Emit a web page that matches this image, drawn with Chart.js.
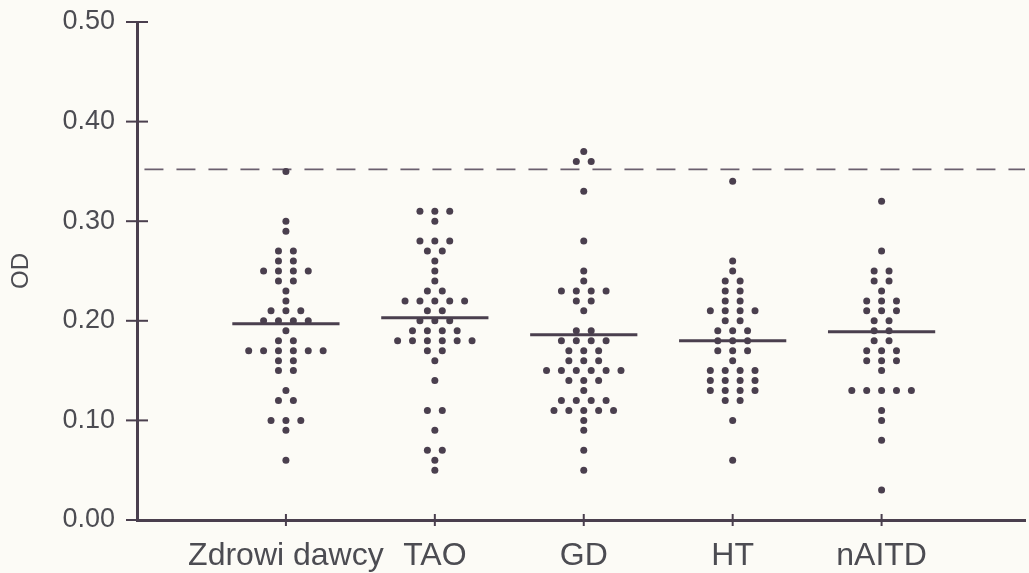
<!DOCTYPE html>
<html>
<head>
<meta charset="utf-8">
<script src="https://cdn.jsdelivr.net/npm/chart.js@4/dist/chart.umd.min.js"></script>
<style>
  html, body { margin: 0; padding: 0; background: #fcfbf6; }
  #wrap { width: 1029px; height: 573px; }
</style>
</head>
<body>
<div id="wrap"><canvas id="c" width="1029" height="573"></canvas></div>
<script>
// Groups shown along the x axis
const groups = ['Zdrowi dawcy', 'TAO', 'GD', 'HT', 'nAITD'];

// Individual OD readings per group (one entry per subject)
const zdrowiDawcy = [0.35, 0.30, 0.29, 0.27, 0.27, 0.26, 0.26, 0.25, 0.25, 0.25, 0.25,
  0.24, 0.24, 0.23, 0.22, 0.21, 0.21, 0.21, 0.20, 0.20, 0.20, 0.20, 0.19, 0.18, 0.18,
  0.17, 0.17, 0.17, 0.17, 0.17, 0.17, 0.16, 0.16, 0.15, 0.15, 0.13, 0.12, 0.12,
  0.10, 0.10, 0.10, 0.09, 0.06];
const tao = [0.31, 0.31, 0.31, 0.30, 0.28, 0.28, 0.28, 0.27, 0.27, 0.26, 0.25, 0.24,
  0.23, 0.23, 0.22, 0.22, 0.22, 0.22, 0.22, 0.21, 0.21, 0.20, 0.20, 0.20,
  0.19, 0.19, 0.19, 0.19, 0.18, 0.18, 0.18, 0.18, 0.18, 0.18, 0.17, 0.17, 0.16, 0.14,
  0.11, 0.11, 0.09, 0.07, 0.07, 0.06, 0.05];
const gd = [0.37, 0.36, 0.36, 0.33, 0.28, 0.25, 0.24, 0.23, 0.23, 0.23, 0.23, 0.22, 0.22,
  0.21, 0.19, 0.19, 0.18, 0.18, 0.18, 0.18, 0.17, 0.17, 0.17, 0.16, 0.16, 0.16,
  0.15, 0.15, 0.15, 0.15, 0.15, 0.15, 0.14, 0.14, 0.14, 0.13, 0.12, 0.12, 0.12, 0.12,
  0.11, 0.11, 0.11, 0.11, 0.11, 0.10, 0.09, 0.07, 0.05];
const ht = [0.34, 0.26, 0.25, 0.24, 0.24, 0.23, 0.23, 0.22, 0.22, 0.21, 0.21, 0.21, 0.21,
  0.20, 0.20, 0.19, 0.19, 0.19, 0.18, 0.18, 0.18, 0.17, 0.17, 0.17, 0.16,
  0.15, 0.15, 0.15, 0.15, 0.14, 0.14, 0.14, 0.14, 0.13, 0.13, 0.13, 0.13, 0.12, 0.12,
  0.10, 0.06];
const naitd = [0.32, 0.27, 0.25, 0.25, 0.24, 0.24, 0.23, 0.22, 0.22, 0.22, 0.21, 0.21, 0.21,
  0.20, 0.20, 0.19, 0.19, 0.18, 0.18, 0.17, 0.17, 0.17, 0.16, 0.16, 0.16, 0.15,
  0.13, 0.13, 0.13, 0.13, 0.13, 0.11, 0.10, 0.08, 0.03];

// Group means (horizontal bars) and the cut-off level (dashed line)
const groupMeans = [0.197, 0.203, 0.186, 0.180, 0.189];
const cutoff = 0.352;

// Y axis tick values
const yTicks = [0.00, 0.10, 0.20, 0.30, 0.40, 0.50];

const INK = '#4a3f4e';
const TEXT = '#4c4c52';
const FONT = 'Liberation Sans, Arial, sans-serif';
const DOT_STEP = 0.1;      // horizontal distance between neighbouring dots (x units)
const MEAN_HALF = 0.36;    // half-width of the mean bar (x units)

// Spread dots of equal value side by side, centred on the group position
function swarm(values, centre) {
  const rows = new Map();
  values.forEach(v => {
    const k = v.toFixed(2);
    if (!rows.has(k)) rows.set(k, []);
    rows.get(k).push(v);
  });
  const pts = [];
  rows.forEach(list => {
    const n = list.length;
    list.forEach((v, i) => pts.push({ x: centre + (i - (n - 1) / 2) * DOT_STEP, y: v }));
  });
  return pts;
}

const series = [zdrowiDawcy, tao, gd, ht, naitd];
const datasets = [];

series.forEach((vals, i) => {
  datasets.push({
    data: swarm(vals, i + 1),
    pointRadius: 3.5,
    pointBackgroundColor: INK,
    pointBorderWidth: 0,
    showLine: false,
    order: 2
  });
});

groupMeans.forEach((m, i) => {
  datasets.push({
    data: [{ x: i + 1 - MEAN_HALF, y: m }, { x: i + 1 + MEAN_HALF, y: m }],
    showLine: true,
    borderColor: INK,
    borderWidth: 3,
    pointRadius: 0,
    order: 1
  });
});

datasets.push({
  data: [{ x: 0.05, y: cutoff }, { x: 6, y: cutoff }],
  showLine: true,
  borderColor: '#6a5f6e',
  borderWidth: 1.6,
  borderDash: [19, 13],
  pointRadius: 0,
  order: 3
});

// Tick marks that cross the axis lines
const crossTicks = {
  id: 'crossTicks',
  afterDraw(chart) {
    const { ctx, scales: { x, y } } = chart;
    ctx.save();
    ctx.strokeStyle = INK;
    ctx.lineWidth = 2;
    const ax = x.left;
    yTicks.forEach(v => {
      const py = y.getPixelForValue(v);
      ctx.beginPath();
      ctx.moveTo(ax - 11, py);
      ctx.lineTo(ax + 11, py);
      ctx.stroke();
    });
    const ay = y.bottom;
    groups.forEach((g, i) => {
      const px = x.getPixelForValue(i + 1);
      ctx.beginPath();
      ctx.moveTo(px, ay - 6);
      ctx.lineTo(px, ay + 6);
      ctx.stroke();
    });
    ctx.restore();
  }
};

new Chart(document.getElementById('c'), {
  type: 'scatter',
  data: { datasets },
  plugins: [crossTicks],
  options: {
    responsive: false,
    animation: false,
    devicePixelRatio: 1,
    layout: { padding: { top: 22, right: 0, left: 0, bottom: 0 } },
    plugins: { legend: { display: false }, tooltip: { enabled: false } },
    scales: {
      x: {
        type: 'linear',
        min: 0,
        max: 5.963,
        grid: { display: false, drawTicks: false },
        border: { display: true, color: INK, width: 3 },
        afterBuildTicks: s => { s.ticks = groups.map((g, i) => ({ value: i + 1 })); },
        afterFit: s => { s.height = 53; s.paddingLeft = 0; s.paddingRight = 0; },
        ticks: {
          color: TEXT,
          padding: 17,
          maxRotation: 0,
          autoSkip: false,
          font: { family: FONT, size: 32 },
          callback: v => groups[v - 1]
        }
      },
      y: {
        min: 0,
        max: 0.5,
        grid: { display: false, drawTicks: false },
        border: { display: true, color: INK, width: 3 },
        afterBuildTicks: s => { s.ticks = yTicks.map(v => ({ value: v })); },
        afterFit: s => { s.width = 137; s.paddingTop = 0; s.paddingBottom = 0; },
        ticks: {
          color: TEXT,
          padding: 22,
          font: { family: FONT, size: 27 },
          callback: v => Number(v).toFixed(2)
        },
        title: {
          display: true,
          text: 'OD',
          color: TEXT,
          padding: { top: 7, bottom: 0 },
          font: { family: FONT, size: 24 }
        }
      }
    }
  }
});
</script>
</body>
</html>
